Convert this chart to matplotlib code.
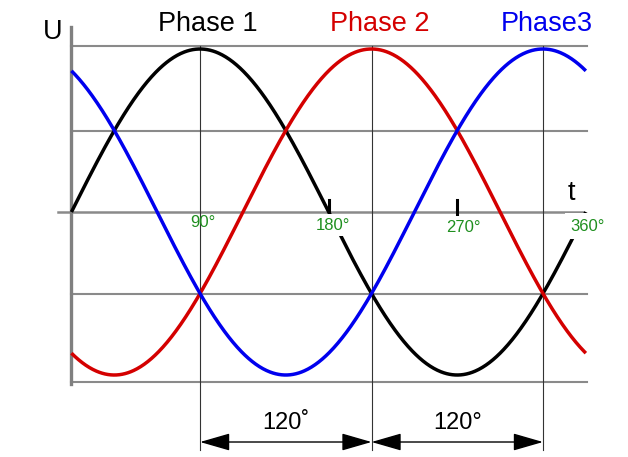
import numpy as np
import matplotlib
matplotlib.use("Agg")
from matplotlib import pyplot as plt

# phase data (degrees)
phase_names = ["Phase 1", "Phase 2", "Phase3"]
phase_shift = [0, 120, 240]
phase_colors = ["#000000", "#d40000", "#0000ee"]
amplitude = 1.0
peak_deg = [90, 210, 330]

deg_ticks = [90, 180, 270, 360]
deg_labels = ["90°", "180°", "270°", "360°"]
grid_levels = [1.02, 0.5, -0.5, -1.04]
spacing_labels = ["120˚", "120°"]

plt.rcParams["font.family"] = ["Liberation Sans", "DejaVu Sans"]

fig = plt.figure(figsize=(6.28, 4.57), dpi=100)
ax = fig.add_axes([0, 0, 1, 1])
ax.set_xlim(-50, 389.5)
ax.set_ylim(-1.503, 1.3006)
ax.axis("off")

# grid lines
for lv in grid_levels:
    ax.plot([0, 360.5], [lv, lv], color="#8a8a8a", lw=1.5, zorder=1)
ax.plot([-9.5, 358], [0, 0], color="#8a8a8a", lw=1.8, zorder=1)
ax.plot([0, 0], [1.135, -1.055], color="#808080", lw=2.4, zorder=1)

# peak markers
for p in peak_deg:
    ax.plot([p, p], [1.02, -1.46], color="#333333", lw=0.8, zorder=1)

# curves
x = np.linspace(0, 360, 721)
for name, sh, col in zip(phase_names, phase_shift, phase_colors):
    ax.plot(x, amplitude * np.sin(np.radians(x - sh)), color=col, lw=2.5,
            zorder=3, solid_capstyle="butt")

# small ticks on time axis
ax.plot([180, 180], [0.074, -0.006], color="black", lw=2.2, zorder=4)
ax.plot([270, 270], [0.074, -0.03], color="black", lw=2.2, zorder=4)

# degree labels
lab_pos = [(92, -0.067), (183, -0.08), (274, -0.092), (361.5, -0.086)]
lab_pad = [0, 2.5, 2.5, 4.0]
for i, (d, lab) in enumerate(zip(deg_ticks, deg_labels)):
    bb = None if i == 0 else dict(facecolor="white", edgecolor="none", pad=lab_pad[i])
    ax.text(lab_pos[i][0], lab_pos[i][1], lab, color="#1f8f1f", fontsize=12,
            ha="center", va="center", bbox=bb, zorder=5)

# titles
title_x = [95.4, 215.7, 333]
for name, col, tx in zip(phase_names, phase_colors, title_x):
    ax.text(tx, 1.155, name, color=col, fontsize=19.5, ha="center", va="center")

ax.text(-13, 1.104, "U", fontsize=19.5, ha="center", va="center")
ax.text(350, 0.117, "t", fontsize=19.5, ha="center", va="center")

# 120 degree spacing arrows
for i in range(2):
    a, b = peak_deg[i], peak_deg[i + 1]
    ax.annotate("", xy=(b, -1.411), xytext=(a, -1.411),
                arrowprops=dict(arrowstyle="<|-|>,head_length=1.87,head_width=0.54",
                                mutation_scale=10, color="black", lw=1.0,
                                shrinkA=0, shrinkB=0))
    ax.text((a + b) / 2, -1.294, spacing_labels[i], fontsize=17,
            ha="center", va="center")

fig.savefig("out.png", dpi=100)
